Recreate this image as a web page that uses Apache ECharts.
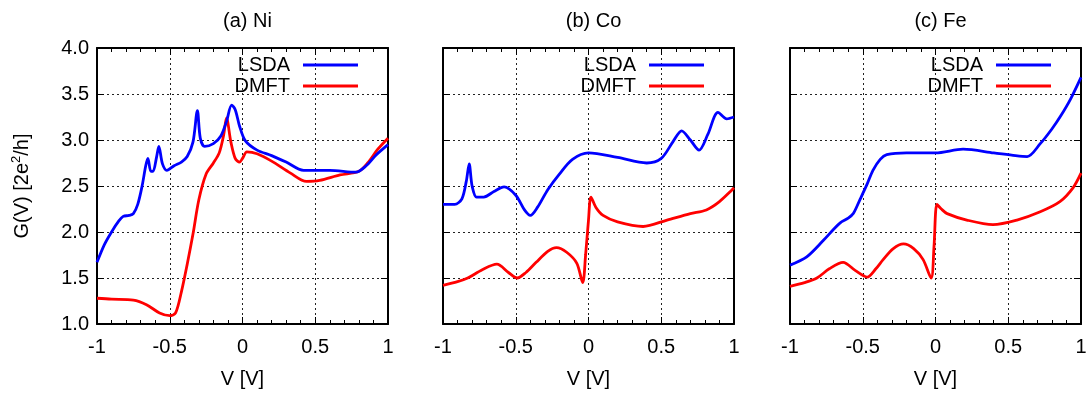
<!DOCTYPE html>
<html>
<head>
<meta charset="utf-8">
<script src="https://cdn.jsdelivr.net/npm/echarts@6/dist/echarts.min.js"></script>
<style>
  html, body { margin: 0; padding: 0; background: #fff; }
  #chart { width: 1091px; height: 398px; }
</style>
</head>
<body>
<div id="chart"></div>
<script>
// values, [V, G] pairs
const panelTitles = ["(a) Ni", "(b) Co", "(c) Fe"];
const xTicks = [-1, -0.5, 0, 0.5, 1];
const yTicks = [1.0, 1.5, 2.0, 2.5, 3.0, 3.5, 4.0];

const niLsda = [[-1,1.67],[-0.95,1.86],[-0.9,2.0],[-0.85,2.12],[-0.82,2.17],[-0.78,2.18],[-0.75,2.2],[-0.72,2.3],[-0.69,2.5],[-0.665,2.72],[-0.65,2.8],[-0.63,2.66],[-0.615,2.66],[-0.59,2.82],[-0.575,2.93],[-0.55,2.74],[-0.52,2.67],[-0.47,2.72],[-0.42,2.76],[-0.38,2.82],[-0.34,2.98],[-0.31,3.32],[-0.29,3.02],[-0.26,2.93],[-0.2,2.96],[-0.15,3.04],[-0.11,3.2],[-0.075,3.38],[-0.05,3.33],[-0.02,3.15],[0.02,2.99],[0.1,2.89],[0.2,2.83],[0.3,2.76],[0.42,2.67],[0.6,2.67],[0.78,2.65],[0.85,2.72],[0.92,2.84],[1,2.95]];
const niDmft = [[-1,1.28],[-0.9,1.27],[-0.75,1.26],[-0.66,1.21],[-0.57,1.12],[-0.5,1.09],[-0.46,1.12],[-0.42,1.35],[-0.38,1.65],[-0.34,1.98],[-0.3,2.35],[-0.25,2.63],[-0.2,2.75],[-0.16,2.86],[-0.13,3.05],[-0.11,3.24],[-0.08,2.98],[-0.05,2.8],[-0.02,2.76],[0.0,2.8],[0.03,2.87],[0.1,2.85],[0.2,2.77],[0.33,2.64],[0.44,2.55],[0.53,2.56],[0.67,2.62],[0.8,2.66],[0.86,2.75],[0.93,2.9],[1,3.02]];

const coLsda = [[-1,2.3],[-0.92,2.3],[-0.87,2.36],[-0.84,2.55],[-0.82,2.74],[-0.8,2.5],[-0.77,2.38],[-0.72,2.38],[-0.65,2.44],[-0.58,2.49],[-0.5,2.4],[-0.44,2.24],[-0.4,2.18],[-0.35,2.27],[-0.28,2.46],[-0.2,2.63],[-0.11,2.79],[0,2.86],[0.2,2.81],[0.4,2.75],[0.5,2.8],[0.58,2.98],[0.64,3.1],[0.7,3.0],[0.76,2.89],[0.82,3.06],[0.89,3.3],[0.95,3.23],[1,3.25]];
const coDmft = [[-1,1.42],[-0.9,1.46],[-0.83,1.5],[-0.73,1.59],[-0.63,1.65],[-0.55,1.56],[-0.49,1.5],[-0.43,1.56],[-0.36,1.67],[-0.28,1.79],[-0.22,1.83],[-0.15,1.78],[-0.08,1.66],[-0.04,1.45],[-0.02,1.75],[0.0,2.13],[0.017,2.38],[0.05,2.27],[0.1,2.18],[0.2,2.11],[0.375,2.06],[0.54,2.13],[0.7,2.2],[0.81,2.24],[0.9,2.33],[1,2.48]];

const feLsda = [[-1,1.64],[-0.885,1.73],[-0.77,1.91],[-0.7,2.03],[-0.655,2.1],[-0.6,2.15],[-0.565,2.2],[-0.52,2.35],[-0.47,2.52],[-0.43,2.67],[-0.38,2.79],[-0.335,2.84],[-0.2,2.86],[0,2.86],[0.19,2.9],[0.4,2.86],[0.55,2.83],[0.63,2.82],[0.72,2.96],[0.8,3.12],[0.86,3.26],[0.93,3.45],[1,3.68]];
const feDmft = [[-1,1.41],[-0.9,1.45],[-0.815,1.5],[-0.73,1.6],[-0.635,1.67],[-0.55,1.58],[-0.47,1.51],[-0.41,1.6],[-0.36,1.7],[-0.29,1.82],[-0.22,1.87],[-0.15,1.82],[-0.085,1.7],[-0.03,1.5],[-0.01,1.85],[0.01,2.3],[0.04,2.25],[0.08,2.2],[0.215,2.13],[0.395,2.08],[0.56,2.13],[0.72,2.22],[0.855,2.33],[0.945,2.48],[1,2.64]];

const lsdaSets = [niLsda, coLsda, feLsda];
const dmftSets = [niDmft, coDmft, feDmft];

const FONT = "Liberation Sans, Arial, sans-serif";
const FS = 20;
const panelLeft = [97, 443, 790];
const panelWidth = 291;

const myChart = echarts.init(document.getElementById("chart"), null, { renderer: "canvas" });

let grids = [], xAxes = [], yAxes = [], series = [], titles = [], legends = [];
const axisLine = { show: true, onZero: false, lineStyle: { color: "#000", width: 2 } };
const dotted = { show: true, lineStyle: { color: "#222", type: [2, 3], width: 1 } };
const tick = { show: true, inside: true, length: 7, lineStyle: { color: "#000", width: 1 } };
const minor = { show: true, splitNumber: 5, length: 4, lineStyle: { color: "#000", width: 1 } };

for (let i = 0; i < 3; i++) {
    grids.push({ left: panelLeft[i], width: panelWidth, top: 48, bottom: 74 });

    // bottom x axis with labels and grid lines
    xAxes.push({
        type: "value", gridIndex: i, position: "bottom",
        min: xTicks[0], max: xTicks[xTicks.length - 1], interval: 0.5,
        axisLine: axisLine, axisTick: tick, minorTick: minor,
        splitLine: dotted,
        axisLabel: { show: true, margin: 13, fontSize: FS, color: "#000", fontFamily: FONT,
                     formatter: v => String(v) },
        name: "V [V]", nameLocation: "middle", nameGap: 45,
        nameTextStyle: { fontSize: FS, color: "#000", fontFamily: FONT },
    });
    // top x axis, frame + ticks only
    xAxes.push({
        type: "value", gridIndex: i, position: "top",
        min: -1, max: 1, interval: 0.5,
        axisLine: axisLine, axisTick: tick, minorTick: minor,
        splitLine: { show: false }, axisLabel: { show: false },
    });
    yAxes.push({
        type: "value", gridIndex: i, position: "left",
        min: yTicks[0], max: yTicks[yTicks.length - 1], interval: 0.5,
        axisLine: axisLine, axisTick: tick,
        splitLine: dotted,
        axisLabel: { show: i === 0, margin: 8, fontSize: FS, color: "#000", fontFamily: FONT,
                     formatter: v => v.toFixed(1) },
        name: i === 0 ? "G(V) [2e{s|2}/h]" : "", nameLocation: "middle", nameGap: 63,
        nameTextStyle: { fontSize: FS, color: "#000", fontFamily: FONT, lineHeight: 24,
                         rich: { s: { fontSize: 13, color: "#000", fontFamily: FONT,
                                      verticalAlign: "top", lineHeight: 24 } } },
    });
    yAxes.push({
        type: "value", gridIndex: i, position: "right",
        min: 1, max: 4, interval: 0.5,
        axisLine: axisLine, axisTick: tick,
        splitLine: { show: false }, axisLabel: { show: false },
    });

    series.push({
        name: "LSDA", type: "line", xAxisIndex: 2 * i, yAxisIndex: 2 * i,
        data: lsdaSets[i], symbol: "none", smooth: 0.3,
        lineStyle: { color: "#0000ff", width: 2.8 }, itemStyle: { color: "#0000ff" },
        z: 3,
    });
    series.push({
        name: "DMFT", type: "line", xAxisIndex: 2 * i, yAxisIndex: 2 * i,
        data: dmftSets[i], symbol: "none", smooth: 0.3,
        lineStyle: { color: "#ff0000", width: 2.8 }, itemStyle: { color: "#ff0000" },
        z: 2,
    });

    titles.push({
        text: panelTitles[i], left: panelLeft[i] + panelWidth / 2, top: 6, textAlign: "center",
        textStyle: { fontSize: FS, fontWeight: "normal", color: "#000", fontFamily: FONT },
    });
    legends.push({
        data: ["LSDA", "DMFT"], orient: "vertical", align: "right",
        right: 1091 - (panelLeft[i] + 266), top: 50,
        itemWidth: 55, itemHeight: 3, itemGap: 1, icon: "rect",
        textStyle: { fontSize: FS, color: "#000", fontFamily: FONT, padding: [0, 8, 0, 0] },
        selectedMode: false,
    });
}

myChart.setOption({
    animation: false,
    title: titles,
    legend: legends,
    grid: grids,
    xAxis: xAxes,
    yAxis: yAxes,
    series: series,
});
</script>
</body>
</html>
